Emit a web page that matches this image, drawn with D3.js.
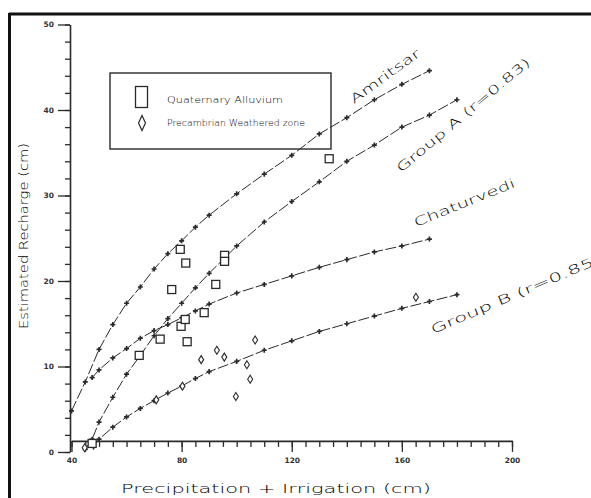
<!DOCTYPE html>
<html>
<head>
<meta charset="utf-8">
<script src="https://cdn.jsdelivr.net/npm/d3@7"></script>
<style>
  html, body { margin: 0; padding: 0; background: #fff; }
  svg { display: block; }
  text { font-family: "DejaVu Sans", "Liberation Sans", sans-serif; fill: #2a2a2a; }
  .thin { font-weight: 200; fill: #000; }
</style>
</head>
<body>
<svg id="chart" width="591" height="498"></svg>
<script>
// ---- data ----
const xTickLabels = [40, 80, 120, 160, 200];
const yTickLabels = [0, 10, 20, 30, 40, 50];

const amritsarX = [40, 45, 50, 55, 60, 65, 70, 75, 80, 85, 90, 100, 110, 120, 130, 140, 150, 160, 170];
const amritsarY = [4.8, 8.2, 12.0, 14.9, 17.4, 19.3, 21.4, 23.2, 24.7, 26.3, 27.7, 30.2, 32.5, 34.7, 37.2, 39.1, 41.2, 43.0, 44.6];

const groupAX = [45, 47.5, 50, 55, 60, 65, 70, 75, 80, 85, 90, 100, 110, 120, 130, 140, 150, 160, 170, 180];
const groupAY = [0.3, 1.5, 3.5, 6.4, 9.1, 11.3, 13.6, 15.6, 17.4, 19.2, 20.9, 24.1, 26.9, 29.3, 31.6, 34.0, 35.9, 38.0, 39.4, 41.2];

const chaturX = [47.5, 50, 55, 60, 65, 70, 75, 80, 85, 90, 100, 110, 120, 130, 140, 150, 160, 170];
const chaturY = [8.7, 9.6, 11.0, 12.1, 13.3, 14.2, 14.9, 15.7, 16.5, 17.3, 18.6, 19.6, 20.6, 21.6, 22.5, 23.4, 24.1, 24.9];

const groupBX = [48, 50, 55, 60, 65, 70, 75, 80, 85, 90, 100, 110, 120, 130, 140, 150, 160, 170, 180];
const groupBY = [0.6, 1.5, 2.9, 4.1, 5.1, 6.0, 6.9, 7.7, 8.6, 9.4, 10.6, 11.9, 13.0, 14.1, 15.0, 15.9, 16.8, 17.6, 18.4];

const quatX = [47.5, 64.6, 72.2, 76.4, 79.5, 79.8, 81.3, 81.5, 82.0, 88.2, 92.4, 95.6, 95.6, 133.6];
const quatY = [1.0, 11.3, 13.2, 19.0, 23.7, 14.7, 15.5, 22.1, 12.9, 16.3, 19.6, 23.0, 22.3, 34.3];

const precX = [44.8, 70.8, 80.3, 87.1, 92.8, 95.5, 99.7, 103.7, 104.9, 106.7, 165.1];
const precY = [0.5, 6.1, 7.7, 10.8, 11.9, 11.1, 6.5, 10.2, 8.5, 13.1, 18.1];

const seriesNames = ["Amritsar", "Group A (r=0.83)", "Chaturvedi", "Group B (r=0.85)"];
const legendNames = ["Quaternary Alluvium", "Precambrian Weathered zone"];
const xTitle = "Precipitation + Irrigation (cm)";
const yTitle = "Estimated Recharge (cm)";

// ---- layout ----
const svg = d3.select("#chart");
const x = d3.scaleLinear().domain([40, 200]).range([71.5, 512]);
const y = d3.scaleLinear().domain([0, 50]).range([452, 24.5]);
const ink = "#2a2a2a";

// frame
svg.append("line").attr("x1", 9).attr("x2", 591).attr("y1", 14).attr("y2", 14)
  .attr("stroke", "#111").attr("stroke-width", 3);
svg.append("line").attr("x1", 9.5).attr("x2", 9.5).attr("y1", 13).attr("y2", 498)
  .attr("stroke", "#111").attr("stroke-width", 3);

// y axis
const yMinor = svg.append("g").attr("transform", "translate(70,0)")
  .call(d3.axisLeft(y).tickValues(d3.range(0, 51, 2)).tickSize(5).tickSizeOuter(0).tickFormat(""));
const yMajor = svg.append("g").attr("transform", "translate(70,0)")
  .call(d3.axisLeft(y).tickValues(yTickLabels).tickSize(12).tickPadding(4).tickSizeOuter(0));
yMajor.select(".domain").remove();
[yMinor, yMajor].forEach(g => {
  g.selectAll("line").attr("stroke", ink).attr("stroke-width", 1.3);
  g.selectAll(".domain").attr("stroke", ink).attr("stroke-width", 1.6);
});
yMajor.selectAll("text").attr("font-size", 7.5).attr("font-weight", "bold").style("fill", "#333")
  .attr("font-family", "DejaVu Sans");

// x axis
const xAxisY = y(1.3);
const xMinor = svg.append("g").attr("transform", `translate(0,${xAxisY})`)
  .call(d3.axisBottom(x).tickValues(d3.range(40, 201, 5)).tickSize(6).tickSizeOuter(0).tickFormat(""));
const xMajor = svg.append("g").attr("transform", `translate(0,${xAxisY})`)
  .call(d3.axisBottom(x).tickValues(xTickLabels).tickSize(11).tickPadding(6).tickSizeOuter(0));
xMajor.select(".domain").remove();
[xMinor, xMajor].forEach(g => {
  g.selectAll("line").attr("stroke", ink).attr("stroke-width", 1.3);
  g.selectAll(".domain").attr("stroke", ink).attr("stroke-width", 1.6);
});
xMajor.selectAll("text").attr("font-size", 7.5).attr("font-weight", "bold").style("fill", "#333")
  .attr("font-family", "DejaVu Sans");

// axis titles
svg.append("text").attr("class", "thin").attr("x", 276).attr("y", 493).attr("text-anchor", "middle")
  .attr("font-size", 13).attr("textLength", 310).attr("lengthAdjust", "spacingAndGlyphs")
  .text(xTitle);
svg.append("text").attr("class", "thin").attr("transform", "translate(28,236) rotate(-90)").attr("text-anchor", "middle")
  .attr("font-size", 12).attr("textLength", 186).attr("lengthAdjust", "spacingAndGlyphs")
  .text(yTitle);

// legend box (transparent so curves show through, as in the reference)
svg.append("rect").attr("x", 110).attr("y", 73).attr("width", 221).attr("height", 76)
  .attr("fill", "none").attr("stroke", ink).attr("stroke-width", 1.4);
svg.append("rect").attr("x", 135.5).attr("y", 86.5).attr("width", 12).attr("height", 21)
  .attr("fill", "none").attr("stroke", ink).attr("stroke-width", 1.3);
const diamond = (w, h) => `M0,${-h / 2}L${w / 2},0L0,${h / 2}L${-w / 2},0Z`;
svg.append("path").attr("transform", "translate(142,123)").attr("d", diamond(7, 15))
  .attr("fill", "none").attr("stroke", ink).attr("stroke-width", 1.2);
svg.append("text").attr("class", "thin").attr("x", 167).attr("y", 103).attr("font-size", 8.5)
  .attr("textLength", 116).attr("lengthAdjust", "spacingAndGlyphs").text(legendNames[0]);
svg.append("text").attr("class", "thin").attr("x", 167).attr("y", 126).attr("font-size", 8.5)
  .attr("textLength", 138).attr("lengthAdjust", "spacingAndGlyphs").text(legendNames[1]);

// curves
const curves = [
  { xs: amritsarX, ys: amritsarY },
  { xs: groupAX, ys: groupAY },
  { xs: chaturX, ys: chaturY },
  { xs: groupBX, ys: groupBY }
];
const line = d3.line().x(d => x(d[0])).y(d => y(d[1]));
const marker = d3.symbol().type(d3.symbolCross).size(14);
curves.forEach(c => {
  const pts = c.xs.map((v, i) => [v, c.ys[i]]);
  svg.append("path").datum(pts).attr("d", line)
    .attr("fill", "none").attr("stroke", ink).attr("stroke-width", 1)
    .attr("stroke-dasharray", "11,2.5");
  svg.append("g").selectAll("path").data(pts).join("path")
    .attr("transform", d => `translate(${x(d[0])},${y(d[1])})`)
    .attr("d", marker).attr("fill", ink);
});

// Quaternary Alluvium squares
const sq = 8;
svg.append("g").selectAll("rect").data(quatX.map((v, i) => [v, quatY[i]])).join("rect")
  .attr("x", d => x(d[0]) - sq / 2).attr("y", d => y(d[1]) - sq / 2)
  .attr("width", sq).attr("height", sq)
  .attr("fill", "#fff").attr("stroke", ink).attr("stroke-width", 1.3);

// Precambrian diamonds
svg.append("g").selectAll("path").data(precX.map((v, i) => [v, precY[i]])).join("path")
  .attr("transform", d => `translate(${x(d[0])},${y(d[1])})`)
  .attr("d", diamond(5, 8)).attr("fill", "#fff").attr("stroke", ink).attr("stroke-width", 1.1);

// curve labels
const labelCfg = [
  { px: 354, py: 104, angle: -36, len: 83 },
  { px: 401, py: 173, angle: -40, len: 170 },
  { px: 416, py: 227, angle: -22, len: 108 },
  { px: 433, py: 334, angle: -23, len: 184 }
];
labelCfg.forEach((c, i) => {
  svg.append("text").attr("class", "thin").attr("transform", `translate(${c.px},${c.py}) rotate(${c.angle})`)
    .attr("font-size", 12.5).attr("textLength", c.len).attr("lengthAdjust", "spacingAndGlyphs")
    .text(seriesNames[i]);
});
</script>
</body>
</html>
